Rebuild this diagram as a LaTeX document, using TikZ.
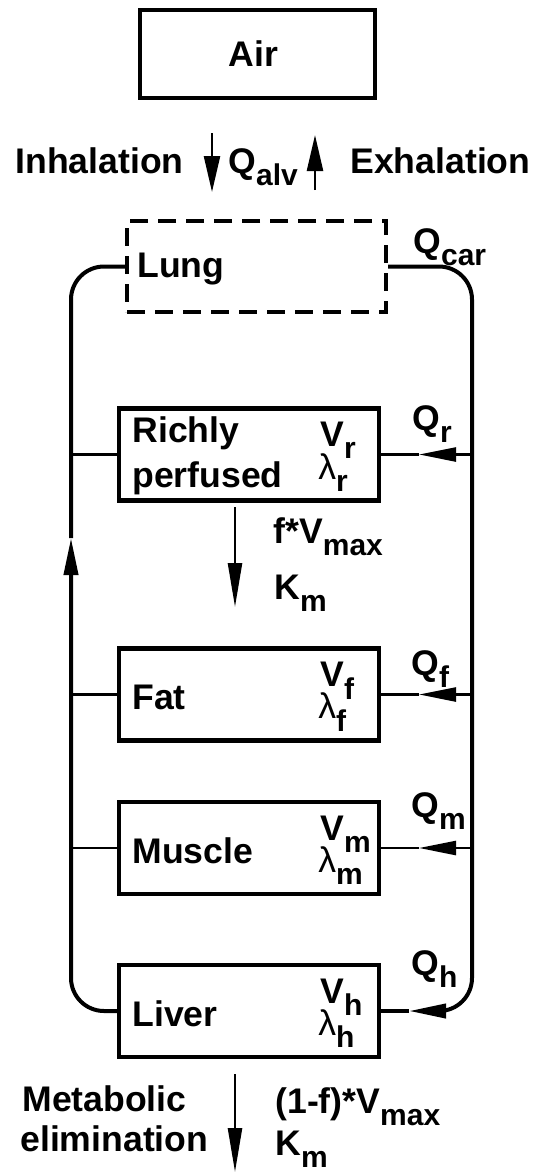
\documentclass[tikz,border=0pt]{standalone}
\usepackage{fontspec}
\setmainfont{Liberation Sans}
\usepackage{tikz}
\usetikzlibrary{arrows.meta,positioning,calc}
\newcommand{\lowr}[1]{\raisebox{-6.3pt}[0pt][0pt]{\fontsize{15}{15}\selectfont #1}}
\tikzset{comp/.style={draw,line width=2.2pt,minimum width=130pt,minimum height=46pt,inner sep=0pt},lungbox/.style={comp,line width=2pt,dash pattern=on 9pt off 5pt},lbl/.style={font=\fontsize{17.8}{22}\selectfont\bfseries,inner sep=0pt,anchor=base west},flow/.style={line width=2pt,rounded corners=16.5pt},branch/.style={line width=1.2pt},qarr/.style={-{Triangle[length=18.5pt,width=7pt]}},thinarr/.style={line width=1.2pt,-{Triangle[length=18pt,width=8pt]}},metarr/.style={line width=1.2pt,-{Triangle[length=22pt,width=7pt]}}}

\begin{document}
\begin{tikzpicture}[x=0.5pt,y=-0.5pt]
\useasboundingbox (0,0) rectangle (534,1174);
% air and lung
\node[comp,minimum width=117.5pt,minimum height=44pt] (air) at (257.5,54) {};
\node[lbl] (airtxt) at (228,66) {Air};
\node[lungbox,minimum width=129.5pt,minimum height=45.5pt] (lung) at (256.5,266.5) {};
\node[lbl] (lungtxt) at (137,277) {Lung};
\node[lbl] (inhal) at (15,173) {Inhalation};
\node[lbl] (qalv) at (228,173) {Q\lowr{alv}};
\node[lbl] (exhal) at (350,173) {Exhalation};
\node[lbl] (qcar) at (413,253) {Q\lowr{car}};
\coordinate (inA) at (212,133); \coordinate (inB) at (212,192);
\coordinate (exA) at (315,190); \coordinate (exB) at (315,135);
\draw[thinarr] (inA) -- (inB);
\draw[thinarr] (exA) -- (exB);
% compartments
\node[comp] (rich) at (249,454.5) {};
\node[lbl] (richtxt) at (132,442) {Richly};
\node[lbl] (richtxt2) at (132,487) {perfused};
\node[lbl] (rich-v) at (320,446) {V\lowr{r}};
\node[lbl] (rich-l) at (318,479) {{\mdseries λ}\lowr{r}};
\node[lbl] (rich-q) at (412,430) {Q\lowr{r}};
\foreach \nm/\txt/\sb/\yc/\yq in {fat/Fat/f/694.5/675,muscle/Muscle/m/848/817,liver/Liver/h/1011/975}{
  \node[comp] (\nm) at (249,\yc) {};
  \node[lbl] (\nm-txt) at (132,\yc+15) {\txt};
  \node[lbl] (\nm-v) at (320,\yc-8) {V\lowr{\sb}};
  \node[lbl] (\nm-l) at (318,\yc+24) {{\mdseries λ}\lowr{\sb}};
  \node[lbl] (\nm-q) at (411,\yq) {Q\lowr{\sb}};
}
% circulation
\coordinate (lft) at (71,0); \coordinate (rgt) at (472,0);
\coordinate (qtip) at (419,0); \coordinate (htip) at (409,1011);
\coordinate (upA) at (71,538);
\draw[flow,qarr] (liver.west) -| (upA);
\draw[flow] (upA) |- (lung.west);
\draw[flow,qarr] (lung.east) -| (liver.east -| rgt) -- (htip);
\draw[flow] (htip) -- (liver.east);
\foreach \b in {rich,fat,muscle}{
  \draw[branch] (\b.west) -- (\b.west -| lft);
  \draw[branch,qarr] (\b.east -| rgt) -- (\b.east -| qtip);
  \draw[branch] (\b.east -| qtip) -- (\b.east);
}
% metabolism
\coordinate (mA) at (235,507); \coordinate (mB) at (235,607);
\draw[metarr] (mA) -- (mB);
\node[lbl] (fvmax) at (273,543) {f*V\lowr{max}};
\node[lbl] (km1) at (274,599) {K\lowr{m}};
\coordinate (eA) at (235,1074); \coordinate (eB) at (235,1172);
\draw[metarr] (eA) -- (eB);
\node[lbl] (metab) at (22,1111) {Metabolic};
\node[lbl] (elim) at (20,1151) {elimination};
\node[lbl] (fvmax2) at (275,1113) {(1-f)*V\lowr{max}};
\node[lbl] (km2) at (275,1155) {K\lowr{m}};
\end{tikzpicture}
\end{document}
